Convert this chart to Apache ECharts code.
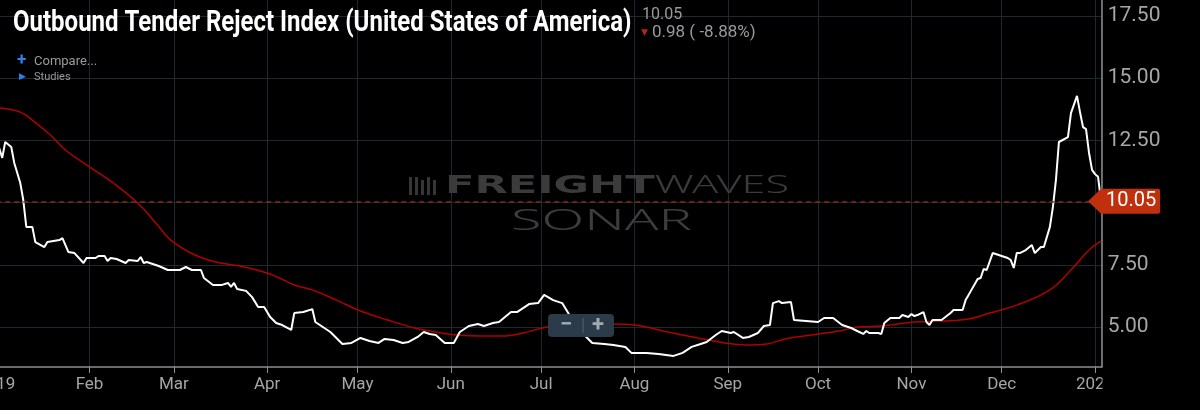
<!DOCTYPE html>
<html><head><meta charset="utf-8">
<script src="https://cdn.jsdelivr.net/npm/echarts@6.0.0/dist/echarts.min.js"></script>
<style>html,body{margin:0;padding:0;background:#000}#c{width:1200px;height:410px}</style>
</head><body><div id="c"></div>
<script>
const titleText = 'Outbound Tender Reject Index (United States of America)';
const statValueText = '10.05';
const statChangeText = '0.98 ( -8.88%)';
const monthNames = ['Jan','Feb','Mar','Apr','May','Jun','Jul','Aug','Sep','Oct','Nov','Dec'];
const yTickInterval = 2.5;

const otriDates = [
'2019-01-02','2019-01-03','2019-01-04','2019-01-06','2019-01-07','2019-01-09','2019-01-10','2019-01-11','2019-01-13','2019-01-14','2019-01-17','2019-01-18','2019-01-22','2019-01-23','2019-01-25','2019-01-27','2019-01-30','2019-01-31',
'2019-02-03','2019-02-04','2019-02-06','2019-02-07','2019-02-08','2019-02-10','2019-02-13','2019-02-14','2019-02-17','2019-02-18','2019-02-19','2019-02-20','2019-02-24','2019-02-27',
'2019-03-03','2019-03-05','2019-03-07','2019-03-10','2019-03-11','2019-03-14','2019-03-17','2019-03-19','2019-03-20','2019-03-21','2019-03-22','2019-03-25','2019-03-27','2019-03-29','2019-03-31',
'2019-04-02','2019-04-04','2019-04-06','2019-04-09','2019-04-10','2019-04-13','2019-04-16','2019-04-17','2019-04-20','2019-04-22','2019-04-26','2019-04-29',
'2019-05-02','2019-05-05','2019-05-08','2019-05-10','2019-05-13','2019-05-16','2019-05-18','2019-05-21','2019-05-23','2019-05-25','2019-05-27','2019-05-30',
'2019-06-02','2019-06-04','2019-06-07','2019-06-10','2019-06-12','2019-06-15','2019-06-17','2019-06-21','2019-06-23','2019-06-27','2019-06-30',
'2019-07-02','2019-07-05','2019-07-07','2019-07-08','2019-07-10','2019-07-12','2019-07-16','2019-07-18','2019-07-22','2019-07-25','2019-07-29','2019-07-31',
'2019-08-05','2019-08-09','2019-08-14','2019-08-17','2019-08-20','2019-08-23','2019-08-25','2019-08-28','2019-08-30',
'2019-09-02','2019-09-03','2019-09-06','2019-09-08','2019-09-11','2019-09-13','2019-09-15','2019-09-16','2019-09-18','2019-09-19','2019-09-22','2019-09-23','2019-09-27',
'2019-10-01','2019-10-03','2019-10-06','2019-10-09','2019-10-12','2019-10-14','2019-10-16','2019-10-17','2019-10-18','2019-10-21','2019-10-22','2019-10-23','2019-10-25','2019-10-28','2019-10-29','2019-10-31',
'2019-11-01','2019-11-02','2019-11-03','2019-11-05','2019-11-06','2019-11-07','2019-11-08','2019-11-11','2019-11-14','2019-11-15','2019-11-18','2019-11-19','2019-11-20','2019-11-23','2019-11-24','2019-11-25','2019-11-26','2019-11-28','2019-11-30',
'2019-12-03','2019-12-04','2019-12-05','2019-12-06','2019-12-07','2019-12-09','2019-12-11','2019-12-12','2019-12-14','2019-12-15','2019-12-17','2019-12-18','2019-12-19','2019-12-20','2019-12-23','2019-12-24','2019-12-26','2019-12-27','2019-12-28','2019-12-29','2019-12-30','2019-12-31',
'2020-01-01','2020-01-02','2020-01-03'];
const otriValues = [
12.19,11.79,12.43,12.23,11.59,10.78,10.10,9.02,9.02,8.41,8.21,8.41,8.49,8.57,8.01,7.97,7.57,7.77,
7.77,7.85,7.85,7.65,7.77,7.73,7.57,7.69,7.65,7.81,7.57,7.61,7.45,7.29,
7.29,7.41,7.29,7.29,6.97,6.69,6.69,6.77,6.61,6.77,6.53,6.45,6.20,5.80,5.80,
5.40,5.16,5.08,4.88,5.56,5.60,5.72,5.20,4.96,4.80,4.32,4.36,
4.56,4.44,4.36,4.52,4.48,4.36,4.40,4.60,4.80,4.72,4.68,4.36,
4.36,4.80,5.04,5.12,5.04,5.16,5.20,5.60,5.60,5.92,5.96,
6.29,6.08,6.00,5.96,5.56,5.08,4.60,4.36,4.32,4.28,4.20,3.96,
3.96,3.92,3.84,3.96,4.20,4.32,4.40,4.68,4.84,
4.76,4.80,4.56,4.60,4.76,5.04,5.08,5.96,6.04,5.96,6.00,5.28,5.24,
5.20,5.36,5.36,5.08,4.96,4.84,4.72,4.84,4.76,4.76,4.72,5.16,5.36,5.36,5.48,5.40,
5.52,5.44,5.48,5.60,5.20,5.08,5.28,5.28,5.56,5.68,5.68,6.08,6.29,6.93,6.97,7.33,7.29,7.97,7.89,
7.77,7.69,7.37,7.97,7.97,8.09,8.29,7.97,8.21,8.21,9.02,9.82,10.90,12.43,12.63,13.59,14.28,13.63,13.03,12.95,11.99,11.31,
11.14,11.03,10.05];

const maDates = ['2019-01-02','2019-01-09','2019-01-13','2019-01-19','2019-01-24','2019-01-31','2019-02-08','2019-02-17','2019-02-23','2019-02-28','2019-03-08','2019-03-15','2019-03-23','2019-04-01','2019-04-05','2019-04-10','2019-04-16','2019-04-24','2019-05-02','2019-05-11','2019-05-20','2019-05-27','2019-06-03','2019-06-11','2019-06-18','2019-06-25','2019-07-03','2019-07-13','2019-07-24','2019-08-01','2019-08-12','2019-08-22','2019-08-31','2019-09-07','2019-09-14','2019-09-20','2019-09-29','2019-10-08','2019-10-14','2019-10-22','2019-11-02','2019-11-11','2019-11-20','2019-11-27','2019-12-06','2019-12-17','2019-12-24','2019-12-30','2020-01-03'];
const maValues = [13.80,13.63,13.31,12.71,12.11,11.51,10.86,9.98,9.18,8.49,7.89,7.61,7.45,7.17,6.97,6.69,6.49,6.08,5.64,5.28,4.96,4.80,4.68,4.64,4.64,4.76,5.00,5.10,5.12,5.08,4.80,4.56,4.36,4.28,4.32,4.52,4.68,4.84,5.00,5.04,5.20,5.24,5.32,5.56,5.88,6.49,7.29,8.09,8.45];

const xMin = new Date(2019, 0, 1).getTime();
const xMax = new Date(2020, 0, 3, 5).getTime();
const yMin = 2.5, yMax = 18.133;

const otriData = otriDates.map((d, i) => [d, otriValues[i]]);
const maData = maDates.map((d, i) => [d, maValues[i]]);
const lastIdx = otriValues.length - 1;

const gridColor = '#1d2833';
const labelColor = '#a6a6a6';
const axisColor = '#8e8e8e';
const DAY = 86400000;
const sansThin = "'Noto Sans', 'Open Sans', 'DejaVu Sans', sans-serif";

const chart = echarts.init(document.getElementById('c'), null, {renderer: 'canvas'});
chart.setOption({
  backgroundColor: '#000',
  animation: false,
  grid: [
    {left: -3.8, right: 98.3, top: 0, height: 389.25, outerBoundsMode: 'none', containLabel: false},
    {left: -3.8, right: 98.3, top: 0, height: 367, outerBoundsMode: 'none', containLabel: false}
  ],
  xAxis: [
    {type: 'time', gridIndex: 0, min: xMin, max: xMax, show: false},
    {type: 'time', gridIndex: 1, min: xMin, max: xMax,
     minInterval: 28 * DAY, maxInterval: 31 * DAY,
     axisLine: {show: true, lineStyle: {color: axisColor, width: 1.5}},
     axisTick: {show: true, length: 6, lineStyle: {color: axisColor}},
     axisLabel: {color: labelColor, fontSize: 17, fontFamily: 'Roboto', margin: 9, hideOverlap: false,
       formatter: v => { const d = new Date(v); return d.getMonth() === 0 ? String(d.getFullYear()) : monthNames[d.getMonth()]; }},
     splitLine: {show: true, lineStyle: {color: gridColor, width: 1}}}
  ],
  yAxis: [
    {type: 'value', gridIndex: 0, position: 'right', min: yMin, max: yMax, interval: yTickInterval,
     axisLine: {show: false}, axisTick: {show: false},
     axisLabel: {color: labelColor, fontSize: 21, fontFamily: 'Roboto', margin: 6,
       showMinLabel: false, showMaxLabel: false, formatter: v => v.toFixed(2)},
     splitLine: {show: true, showMinLine: false, showMaxLine: false, lineStyle: {color: gridColor, width: 1}}},
    {type: 'value', gridIndex: 1, position: 'right', min: 0, max: 1,
     axisLine: {show: true, lineStyle: {color: axisColor, width: 1.5}},
     axisTick: {show: false}, axisLabel: {show: false}, splitLine: {show: false}}
  ],
  graphic: [
    {type: 'text', x: 13, y: 23, scaleX: 0.8, z: 50,
     style: {text: titleText, fill: '#ffffff', fontSize: 30, fontWeight: 'bold', fontFamily: 'Roboto', align: 'left', verticalAlign: 'middle'}},
    {type: 'text', x: 642, y: 15, z: 50,
     style: {text: statValueText, fill: '#9a9a9a', fontSize: 16, fontFamily: 'Roboto', align: 'left', verticalAlign: 'middle'}},
    {type: 'text', x: 641, y: 33, z: 50,
     style: {text: '▼', fill: '#b3241a', fontSize: 9, fontFamily: 'DejaVu Sans', align: 'left', verticalAlign: 'middle'}},
    {type: 'text', x: 652, y: 33, z: 50,
     style: {text: statChangeText, fill: '#9a9a9a', fontSize: 17, fontFamily: 'Roboto', align: 'left', verticalAlign: 'middle'}},
    {type: 'text', x: 17, y: 61, z: 50,
     style: {text: '+', fill: '#2f80ed', fontSize: 17, fontWeight: 'bold', fontFamily: 'Roboto', align: 'left', verticalAlign: 'middle'}},
    {type: 'text', x: 34, y: 62, z: 50,
     style: {text: 'Compare...', fill: '#9a9a9a', fontSize: 13, fontFamily: 'Roboto', align: 'left', verticalAlign: 'middle'}},
    {type: 'text', x: 19, y: 77, z: 50,
     style: {text: '▶', fill: '#2f80ed', fontSize: 9, fontFamily: 'DejaVu Sans', align: 'left', verticalAlign: 'middle'}},
    {type: 'text', x: 34, y: 77, z: 50,
     style: {text: 'Studies', fill: '#9a9a9a', fontSize: 11, fontFamily: 'Roboto', align: 'left', verticalAlign: 'middle'}},
    {type: 'group', z: 1, children: [
      {type: 'rect', shape: {x: 409, y: 177, width: 3, height: 18}, style: {fill: '#363636'}},
      {type: 'rect', shape: {x: 415, y: 177, width: 3, height: 18}, style: {fill: '#363636'}},
      {type: 'rect', shape: {x: 421, y: 180, width: 3, height: 15}, style: {fill: '#363636'}},
      {type: 'rect', shape: {x: 427, y: 177, width: 3, height: 18}, style: {fill: '#363636'}},
      {type: 'rect', shape: {x: 433, y: 180, width: 3, height: 15}, style: {fill: '#363636'}}
    ]},
    {type: 'text', x: 445, y: 186, scaleX: 1.73, z: 1,
     style: {text: '{b|FREIGHT}{l|WAVES}', align: 'left', verticalAlign: 'middle',
       rich: {b: {fill: '#3b3b3b', fontSize: 25, fontWeight: 'bold', fontFamily: "'DejaVu Sans', sans-serif"},
              l: {fill: '#3b3b3b', fontSize: 25, fontWeight: 300, fontFamily: sansThin}}}},
    {type: 'text', x: 511, y: 222, scaleX: 1.92, z: 1,
     style: {text: 'SONAR', fill: '#3d3d3d', fontSize: 29, fontWeight: 300, fontFamily: sansThin, align: 'left', verticalAlign: 'middle'}},
    {type: 'rect', z: 100, shape: {x: 548, y: 314, width: 66, height: 23, r: 4}, style: {fill: '#2c3b4a'}},
    {type: 'line', z: 101, shape: {x1: 583, y1: 318, x2: 583, y2: 333}, style: {stroke: '#56626e', lineWidth: 1}},
    {type: 'text', z: 101, x: 566, y: 325.5,
     style: {text: '−', fill: '#a3a9af', fontSize: 22, fontWeight: 'bold', fontFamily: 'Roboto', align: 'center', verticalAlign: 'middle'}},
    {type: 'text', z: 101, x: 598, y: 325.5,
     style: {text: '+', fill: '#a3a9af', fontSize: 22, fontWeight: 'bold', fontFamily: 'Roboto', align: 'center', verticalAlign: 'middle'}},
    {type: 'rect', z: 100, shape: {x: 1102.5, y: 371, width: 97.5, height: 32}, style: {fill: '#000'}}
  ],
  series: [
    {name: 'Moving average', type: 'line', xAxisIndex: 0, yAxisIndex: 0, data: maData,
     smooth: 0.4, showSymbol: false, z: 2, silent: true,
     lineStyle: {color: '#b00000', width: 1.5}},
    {name: 'OTRI.USA', type: 'line', xAxisIndex: 0, yAxisIndex: 0, data: otriData,
     showSymbol: false, z: 3, silent: true,
     lineStyle: {color: '#ffffff', width: 2},
     markLine: {silent: true, symbol: 'none', label: {show: false},
       lineStyle: {color: '#862a12', type: [5, 4], width: 1.5},
       data: [{yAxis: otriValues[lastIdx]}]},
     markPoint: {silent: true,
       symbol: 'path://M0,12.5L13,0H70Q72,0 72,2V23Q72,25 70,25H13Z',
       symbolSize: [72, 25], symbolOffset: [23, 0], symbolKeepAspect: false,
       itemStyle: {color: '#c1300d'},
       label: {show: true, position: 'inside', offset: [7, 0], color: '#fff', fontSize: 20, fontFamily: 'Roboto',
         formatter: p => p.value.toFixed(2)},
       data: [{coord: [otriDates[lastIdx], otriValues[lastIdx]], value: otriValues[lastIdx]}]}}
  ]
});
</script></body></html>
